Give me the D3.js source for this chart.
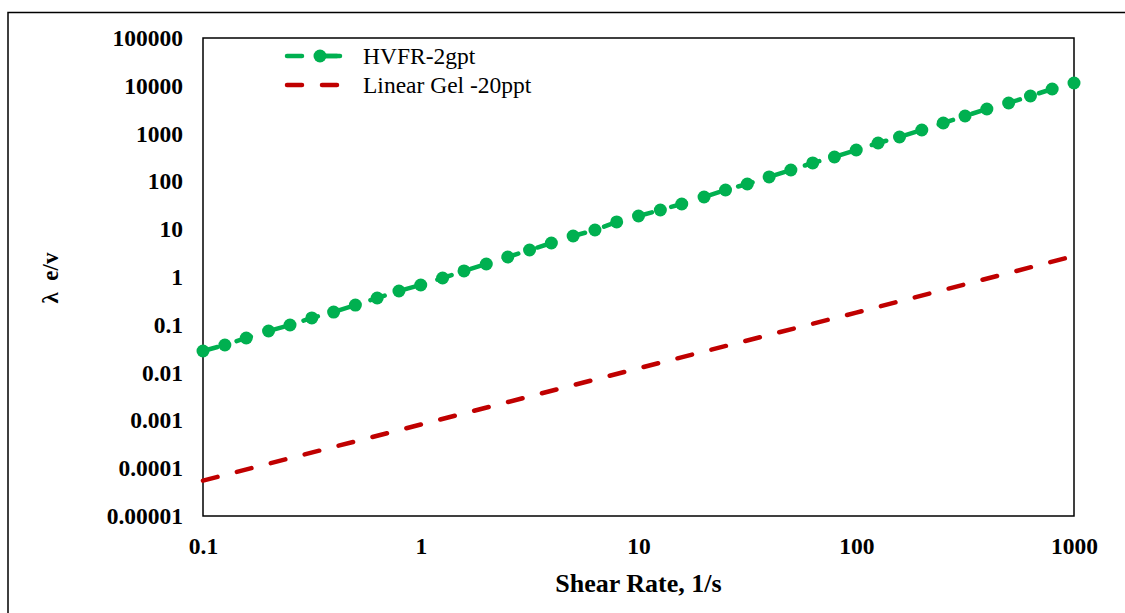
<!DOCTYPE html>
<html>
<head>
<meta charset="utf-8">
<script src="https://cdn.jsdelivr.net/npm/d3@7"></script>
<style>
	body { margin: 0; background: #fff; }
	svg { display: block; font-family: "Liberation Serif", "Times New Roman", serif; }
</style>
</head>
<body>
<div id="chart"></div>
<script>
"use strict";

// shear rate, 1/s (10 points per decade)
var shearRate = [0.1, 0.126, 0.158, 0.2, 0.251, 0.316, 0.398, 0.501, 0.631, 0.794,
	1, 1.26, 1.58, 2, 2.51, 3.16, 3.98, 5.01, 6.31, 7.94,
	10, 12.6, 15.8, 20, 25.1, 31.6, 39.8, 50.1, 63.1, 79.4,
	100, 126, 158, 200, 251, 316, 398, 501, 631, 794, 1000];

// HVFR-2gpt, lambda e/v
var hvfr = [0.0283, 0.0378, 0.053, 0.0741, 0.099, 0.139, 0.185, 0.259, 0.364, 0.509,
	0.681, 0.953, 1.34, 1.87, 2.62, 3.67, 5.14, 7.21, 9.62, 14.2,
	18.9, 25.2, 33.7, 47.2, 66.1, 88.3, 124, 173, 243, 324,
	454, 636, 849, 1189, 1667, 2334, 3273, 4365, 6124, 8570, 11450];

// Linear Gel -20ppt
var gelRate = [0.1, 1, 10, 100, 1000];
var gel = [0.000055, 0.00082, 0.0123, 0.18, 2.75];

var xTicks = [0.1, 1, 10, 100, 1000];
var xTickLabels = ["0.1", "1", "10", "100", "1000"];
var yTicks = [1e-5, 1e-4, 1e-3, 1e-2, 1e-1, 1, 10, 100, 1000, 10000, 100000];
var yTickLabels = ["0.00001", "0.0001", "0.001", "0.01", "0.1", "1", "10", "100", "1000", "10000", "100000"];

var seriesNames = ["HVFR-2gpt", "Linear Gel -20ppt"];
var seriesColors = ["#00B050", "#C00000"];

//
// Setup Variables
//
var canvasWidth = 1125, canvasHeight = 613;
var margin = { top: 38, left: 203, right: 51, bottom: 97 };
var width = canvasWidth - margin.left - margin.right;
var height = canvasHeight - margin.top - margin.bottom;

var x = d3.scaleLog().domain([0.1, 1000]).range([0, width]);
var y = d3.scaleLog().domain([1e-5, 1e5]).range([height, 0]);

var xAxis = d3.axisBottom(x)
	.tickValues(xTicks)
	.tickSize(0)
	.tickPadding(21)
	.tickFormat(function(d, i) { return xTickLabels[i]; });

var yAxis = d3.axisLeft(y)
	.tickValues(yTicks)
	.tickSize(0)
	.tickPadding(20)
	.tickFormat(function(d, i) { return yTickLabels[i]; });

//
// Draw Canvas
//
var root = d3.select("#chart")
	.append("svg")
		.attr("width", canvasWidth)
		.attr("height", canvasHeight);

// outer chart frame (runs off the right and bottom)
root.append("rect")
	.attr("x", 8)
	.attr("y", 12.5)
	.attr("width", 1300)
	.attr("height", 800)
	.attr("fill", "none")
	.attr("stroke", "#000")
	.attr("stroke-width", 1.5);

var svg = root.append("g")
	.attr("transform", "translate(" + margin.left + "," + margin.top + ")");

//
// Draw Axes
//
svg.append("g")
	.attr("transform", "translate(0," + height + ")")
	.call(xAxis)
	.call(function(g) { g.select(".domain").remove(); })
	.selectAll("text")
		.attr("font-family", "Liberation Serif, Times New Roman, serif")
		.attr("font-size", 23.5)
		.attr("font-weight", "bold")
		.attr("fill", "#000");

svg.append("g")
	.call(yAxis)
	.call(function(g) { g.select(".domain").remove(); })
	.selectAll("text")
		.attr("font-family", "Liberation Serif, Times New Roman, serif")
		.attr("font-size", 23.5)
		.attr("font-weight", "bold")
		.attr("fill", "#000");

// plot area border
svg.append("rect")
	.attr("width", width)
	.attr("height", height)
	.attr("fill", "none")
	.attr("stroke", "#000")
	.attr("stroke-width", 1.5);

//
// Axis Titles
//
root.append("text")
	.attr("x", margin.left + width / 2)
	.attr("y", 592)
	.attr("text-anchor", "middle")
	.attr("font-size", 26)
	.attr("font-weight", "bold")
	.text("Shear Rate, 1/s");

root.append("text")
	.attr("transform", "translate(58,278) rotate(-90)")
	.attr("text-anchor", "middle")
	.attr("font-size", 23)
	.attr("font-weight", "bold")
	.attr("xml:space", "preserve")
	.style("white-space", "pre")
	.text("\u03BB  e/v");

//
// Draw Lines
//
var line = d3.line()
	.x(function(d) { return x(d[0]); })
	.y(function(d) { return y(d[1]); });

var plot = svg.append("g");

plot.append("path")
	.datum(d3.zip(gelRate, gel))
	.attr("d", line)
	.attr("fill", "none")
	.attr("stroke", seriesColors[1])
	.attr("stroke-width", 4.5)
	.attr("stroke-linecap", "round")
	.attr("stroke-dasharray", "15,20");

var hvfrData = d3.zip(shearRate, hvfr);

plot.append("path")
	.datum(hvfrData)
	.attr("d", line)
	.attr("fill", "none")
	.attr("stroke", seriesColors[0])
	.attr("stroke-width", 4.5)
	.attr("stroke-linecap", "round")
	.attr("stroke-dasharray", "15,20");

plot.selectAll(".dot")
	.data(hvfrData)
  .enter().append("circle")
	.attr("class", "dot")
	.attr("cx", function(d) { return x(d[0]); })
	.attr("cy", function(d) { return y(d[1]); })
	.attr("r", 6.5)
	.attr("fill", seriesColors[0]);

//
// Legend
//
var legend = root.append("g");
var legendY = [56, 85];

seriesNames.forEach(function(name, i) {
	legend.append("line")
		.attr("x1", 287).attr("x2", 340)
		.attr("y1", legendY[i]).attr("y2", legendY[i])
		.attr("stroke", seriesColors[i])
		.attr("stroke-width", 4.5)
		.attr("stroke-linecap", "round")
		.attr("stroke-dasharray", "15,20");
	if (i === 0) {
		legend.append("line")
			.attr("x1", 320).attr("x2", 340)
			.attr("y1", legendY[i]).attr("y2", legendY[i])
			.attr("stroke", seriesColors[i])
			.attr("stroke-width", 4.5)
			.attr("stroke-linecap", "round");
		legend.append("circle")
			.attr("cx", 320)
			.attr("cy", legendY[i])
			.attr("r", 6.5)
			.attr("fill", seriesColors[i]);
	}
	legend.append("text")
		.attr("x", 363)
		.attr("y", legendY[i])
		.attr("dy", "0.35em")
		.attr("font-size", 23.5)
		.text(name);
});
</script>
</body>
</html>
